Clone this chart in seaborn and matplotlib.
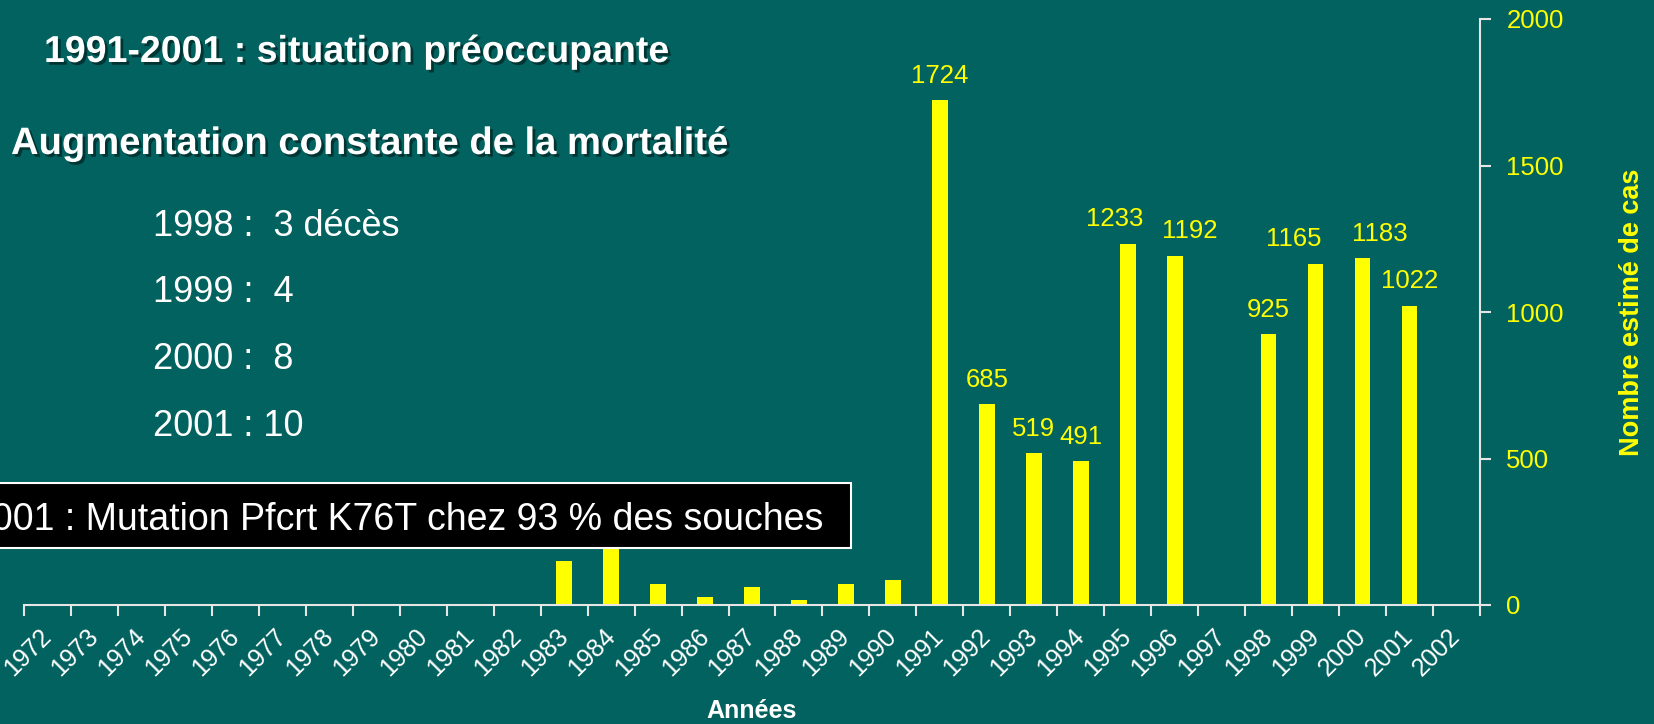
import seaborn as sns
import matplotlib.pyplot as plt
import matplotlib.patheffects as pe
from matplotlib.patches import Rectangle
import pandas as pd

# data
years = [str(y) for y in range(1972, 2003)]
cases = [0, 0, 0, 0, 0, 0, 0, 0, 0, 0, 0,
         150, 200, 72, 26, 61, 18, 72, 84,
         1724, 685, 519, 491, 1233, 1192, 0, 925, 1165, 1183, 1022, 0]
labelled_years = ['1991', '1992', '1993', '1994', '1995', '1996',
                  '1998', '1999', '2000', '2001']
# small horizontal nudges of the value labels (pixels)
label_nudge = {'1995': -13, '1996': 15, '1999': -22, '2000': 17}

deaths_lines = ['1998 :  3 décès', '1999 :  4', '2000 :  8', '2001 : 10']

bg = '#02625f'
yellow = '#ffff00'
W, H = 1654, 724

sns.set_theme(style='white')
plt.rcParams['font.family'] = ['Liberation Sans', 'DejaVu Sans']

df = pd.DataFrame({'year': years, 'cases': cases})

fig = plt.figure(figsize=(W / 100, H / 100), dpi=100, facecolor=bg)
ax = fig.add_axes([24 / W, 119 / H, (1480 - 24) / W, (605 - 19) / H])
ax.set_facecolor(bg)

sns.barplot(data=df, x='year', y='cases', order=years, color=yellow,
            saturation=1, width=0.334, errorbar=None, linewidth=0,
            ax=ax, zorder=2)

ax.set_xlim(-0.5, len(years) - 0.5)
ax.set_ylim(0, 2000)

# value labels
for i, (yr, v) in enumerate(zip(years, cases)):
    if yr in labelled_years:
        ax.annotate(str(v), (i, v), xytext=(label_nudge.get(yr, 0) * 0.72, 12.5),
                    textcoords='offset points', ha='center', va='baseline',
                    color=yellow, fontsize=18.5)

# spines / ticks
for s in ['top', 'left']:
    ax.spines[s].set_visible(False)
for s in ['bottom', 'right']:
    ax.spines[s].set_color('#e6e6e6')
    ax.spines[s].set_linewidth(1.5)

ax.yaxis.tick_right()
ax.yaxis.set_label_position('right')
ax.set_yticks([0, 500, 1000, 1500, 2000])
ax.tick_params(axis='y', colors='#e6e6e6', labelcolor=yellow, labelsize=18.5,
               length=8, width=1.5, pad=11, right=True, left=False)

ax.set_xticks(range(len(years)))
ax.set_xticklabels(years)
ax.set_xticks([i - 0.5 for i in range(len(years) + 1)], minor=True)
ax.tick_params(axis='x', which='major', length=0, labelsize=18,
               labelcolor='white', pad=20)
ax.tick_params(axis='x', which='minor', length=8, width=1.5,
               color='#e6e6e6', bottom=True)
for lab in ax.get_xticklabels():
    lab.set_rotation(45)
    lab.set_ha('right')
    lab.set_va('center')
    lab.set_rotation_mode('anchor')

ax.set_xlabel('')
ax.set_ylabel('Nombre estimé de cas', color=yellow, fontsize=19.5,
              fontweight='bold', labelpad=40)
ax.grid(False)

fig.text(752 / W, 6 / H, 'Années', ha='center', va='baseline',
         color='white', fontsize=18, fontweight='bold')

# slide texts
shadow = [pe.SimplePatchShadow(offset=(2, -2), shadow_rgbFace='black', alpha=0.45),
          pe.Normal()]
fig.text(44 / W, 1 - 52 / H, '1991-2001 : situation préoccupante', ha='left',
         va='center', color='white', fontsize=27, fontweight='bold',
         path_effects=shadow)
fig.text(11 / W, 1 - 144 / H, 'Augmentation constante de la mortalité',
         ha='left', va='center', color='white', fontsize=27.5,
         fontweight='bold', path_effects=shadow)
for k, line in enumerate(deaths_lines):
    fig.text(153 / W, 1 - (226 + k * 66.7) / H, line, ha='left', va='center',
             color='white', fontsize=26)

# black box (the slide crops the start of the text at the left edge)
fig.add_artist(Rectangle((-6 / W, (H - 548) / H), 857 / W, 65 / H,
                         transform=fig.transFigure, facecolor='black',
                         edgecolor='white', linewidth=1.5, zorder=5))
fig.text(823 / W, (H - 520) / H,
         '2001 : Mutation Pfcrt K76T chez 93 % des souches',
         ha='right', va='center', color='white', fontsize=27, zorder=6)

plt.savefig('out.png', dpi=100, facecolor=bg)
plt.close()
